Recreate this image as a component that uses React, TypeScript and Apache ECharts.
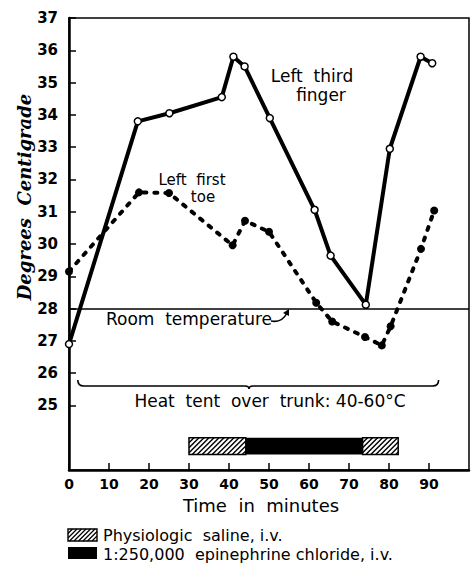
import React, { useEffect, useRef } from "react";
import * as echarts from "echarts";

// Left third finger (solid line, open circles): [minutes, °C]
const fingerTime = [0, 17.2, 25.1, 38.2, 41.1, 43.9, 50.2, 61.4, 65.4, 74.2, 80.2, 87.9, 90.8];
const fingerTemp = [26.9, 33.8, 34.05, 34.55, 35.8, 35.5, 33.9, 31.06, 29.64, 28.12, 32.95, 35.8, 35.6];

// Left first toe (dotted line, filled dots)
const toeTime = [0, 17.5, 25, 40.9, 44, 50, 61.8, 65.8, 74, 78.2, 80.4, 88, 91.3];
const toeTemp = [29.15, 31.6, 31.58, 29.96, 30.72, 30.38, 28.18, 27.6, 27.12, 26.86, 27.45, 29.85, 31.04];

const roomTemperature = 28;

// Infusion periods [start, end] in minutes
const salinePeriods = [[30, 44.2], [73.4, 82.3]];
const epinephrinePeriods = [[44.2, 73.4]];

// Heat tent period (brace): start, end, brace point
const heatTent = [2.2, 92.4, 45];

const yTicks = [25, 26, 27, 28, 29, 30, 31, 32, 33, 34, 35, 36, 37];
const xTicks = [0, 10, 20, 30, 40, 50, 60, 70, 80, 90];

const BAR_LOW = 23.48;
const BAR_HIGH = 24.0;
const BRACE_Y = 25.6;

const FONT = "DejaVu Sans";

function hatchLines(x0: number, y0: number, x1: number, y1: number, step: number, lw: number) {
  const h = y1 - y0;
  const out: any[] = [];
  for (let x = x0 - h; x < x1; x += step) {
    const t0 = Math.max(0, x0 - x);
    const t1 = Math.min(h, x1 - x);
    if (t1 <= t0) continue;
    out.push({
      type: "line",
      shape: { x1: x + t0, y1: y1 - t0, x2: x + t1, y2: y1 - t1 },
      style: { stroke: "#000", lineWidth: lw },
      silent: true,
    });
  }
  return out;
}

export default function App() {
  const ref = useRef<HTMLDivElement>(null);
  useEffect(() => {
    if (!ref.current) return;
    const chart = echarts.init(ref.current, null, { renderer: "svg" });

    const periods: any[] = [];
    salinePeriods.forEach((p) => periods.push([p[0], p[1], 0]));
    epinephrinePeriods.forEach((p) => periods.push([p[0], p[1], 1]));

    const option: any = {
      animation: false,
      grid: {
        left: 69,
        right: 2,
        top: 18,
        bottom: 96,
        show: true,
        borderColor: "#000",
        borderWidth: 1.5,
        backgroundColor: "transparent",
      },
      xAxis: {
        type: "value",
        min: 0,
        max: 100,
        interval: 10,
        splitLine: { show: false },
        axisLine: { lineStyle: { color: "#000", width: 2.5 } },
        axisTick: { inside: true, length: 7, customValues: xTicks, lineStyle: { color: "#000", width: 1.5 } },
        axisLabel: {
          customValues: xTicks,
          color: "#000",
          fontFamily: FONT,
          fontWeight: "bold",
          fontSize: 14,
          margin: 7,
        },
      },
      yAxis: {
        type: "value",
        min: 23,
        max: 37,
        interval: 1,
        splitLine: { show: false },
        axisLine: { lineStyle: { color: "#000", width: 2.5 } },
        axisTick: { inside: true, length: 7, customValues: yTicks, lineStyle: { color: "#000", width: 1.5 } },
        axisLabel: {
          customValues: yTicks,
          color: "#000",
          fontFamily: FONT,
          fontWeight: "bold",
          fontSize: 15,
          margin: 11,
        },
      },
      series: [
        {
          name: "Left first toe",
          type: "line",
          data: toeTime.map((t, i) => [t, toeTemp[i]]),
          symbol: "circle",
          symbolSize: 8,
          itemStyle: { color: "#000" },
          lineStyle: { color: "#000", width: 4, type: [3, 8], cap: "round" },
          z: 3,
          markLine: {
            silent: true,
            symbol: "none",
            label: { show: false },
            lineStyle: { color: "#000", width: 1.5, type: "solid" },
            data: [{ yAxis: roomTemperature }],
          },
        },
        {
          name: "Left third finger",
          type: "line",
          data: fingerTime.map((t, i) => [t, fingerTemp[i]]),
          symbol: "circle",
          symbolSize: 7,
          itemStyle: { color: "#fff", borderColor: "#000", borderWidth: 1.5 },
          lineStyle: { color: "#000", width: 4 },
          z: 4,
        },
        {
          name: "infusion",
          type: "custom",
          data: periods,
          encode: { x: [0, 1] },
          renderItem: (params: any, api: any) => {
            const a = api.coord([api.value(0), BAR_HIGH]);
            const b = api.coord([api.value(1), BAR_LOW]);
            const kind = api.value(2);
            const x0 = a[0], y0 = a[1], x1 = b[0], y1 = b[1];
            const children: any[] = [];
            if (kind === 1) {
              children.push({ type: "rect", shape: { x: x0, y: y0, width: x1 - x0, height: y1 - y0 }, style: { fill: "#000" } });
            } else {
              children.push({ type: "rect", shape: { x: x0, y: y0, width: x1 - x0, height: y1 - y0 }, style: { fill: "#fff" } });
              children.push(...hatchLines(x0, y0, x1, y1, 5, 1.4));
              children.push({ type: "rect", shape: { x: x0, y: y0, width: x1 - x0, height: y1 - y0 }, style: { fill: "none", stroke: "#000", lineWidth: 1.5 } });
            }
            return { type: "group", children };
          },
          z: 2,
        },
        {
          name: "heat tent",
          type: "custom",
          data: [heatTent],
          encode: { x: [0, 1, 2] },
          renderItem: (params: any, api: any) => {
            const a = api.coord([api.value(0), BRACE_Y]);
            const b = api.coord([api.value(1), BRACE_Y]);
            const m = api.coord([api.value(2), BRACE_Y])[0];
            const y = a[1];
            const d =
              `M ${a[0]} ${y - 6} Q ${a[0]} ${y} ${a[0] + 6} ${y} L ${m - 4} ${y} Q ${m} ${y} ${m} ${y + 3} Q ${m} ${y} ${m + 4} ${y} L ${b[0] - 6} ${y} Q ${b[0]} ${y} ${b[0]} ${y - 6}`;
            return {
              type: "path",
              shape: { pathData: d },
              style: { fill: "none", stroke: "#000", lineWidth: 1.6 },
            };
          },
          z: 2,
        },
      ],
      graphic: [
        {
          type: "text",
          x: 24,
          y: 197,
          rotation: Math.PI / 2,
          style: {
            text: "Degrees  Centigrade",
            font: `italic bold 18px "DejaVu Serif"`,
            fill: "#000",
            align: "center",
            verticalAlign: "middle",
          },
        },
        { type: "text", x: 312, y: 76, style: { text: "Left  third", font: `17px ${FONT}`, fill: "#000", align: "center", verticalAlign: "middle" } },
        { type: "text", x: 321, y: 95, style: { text: "finger", font: `17px ${FONT}`, fill: "#000", align: "center", verticalAlign: "middle" } },
        { type: "text", x: 192, y: 180, style: { text: "Left  first", font: `15px ${FONT}`, fill: "#000", align: "center", verticalAlign: "middle" } },
        { type: "text", x: 203, y: 197, style: { text: "toe", font: `15px ${FONT}`, fill: "#000", align: "center", verticalAlign: "middle" } },
        { type: "text", x: 189, y: 319, style: { text: "Room  temperature", font: `17px ${FONT}`, fill: "#000", align: "center", verticalAlign: "middle" } },
        {
          type: "bezierCurve",
          shape: { x1: 271, y1: 321, cpx1: 282, cpy1: 323, x2: 287, y2: 313 },
          style: { stroke: "#000", lineWidth: 1.6, fill: "none" },
        },
        {
          type: "polygon",
          shape: { points: [[289, 309], [283, 313], [289, 316]] },
          style: { fill: "#000" },
        },
        { type: "text", x: 270, y: 401, style: { text: "Heat  tent  over  trunk: 40-60°C", font: `17px ${FONT}`, fill: "#000", align: "center", verticalAlign: "middle" } },
        { type: "text", x: 261, y: 505, style: { text: "Time  in  minutes", font: `18px ${FONT}`, fill: "#000", align: "center", verticalAlign: "middle" } },
        // legend
        { type: "rect", shape: { x: 68, y: 529, width: 29, height: 12 }, style: { fill: "#fff" } },
        ...hatchLines(68, 529, 97, 541, 4.5, 1.3),
        { type: "rect", shape: { x: 68, y: 529, width: 29, height: 12 }, style: { fill: "none", stroke: "#000", lineWidth: 1.4 } },
        { type: "text", x: 103, y: 535, style: { text: "Physiologic  saline, i.v.", font: `16px ${FONT}`, fill: "#000", align: "left", verticalAlign: "middle" } },
        { type: "rect", shape: { x: 68, y: 547, width: 29, height: 12 }, style: { fill: "#000" } },
        { type: "text", x: 103, y: 554, style: { text: "1:250,000  epinephrine chloride, i.v.", font: `16px ${FONT}`, fill: "#000", align: "left", verticalAlign: "middle" } },
      ],
    };
    chart.setOption(option);
    return () => chart.dispose();
  }, []);
  return <div ref={ref} style={{ width: 471, height: 566, position: "absolute", left: 0, top: 0, background: "#fff" }} />;
}
